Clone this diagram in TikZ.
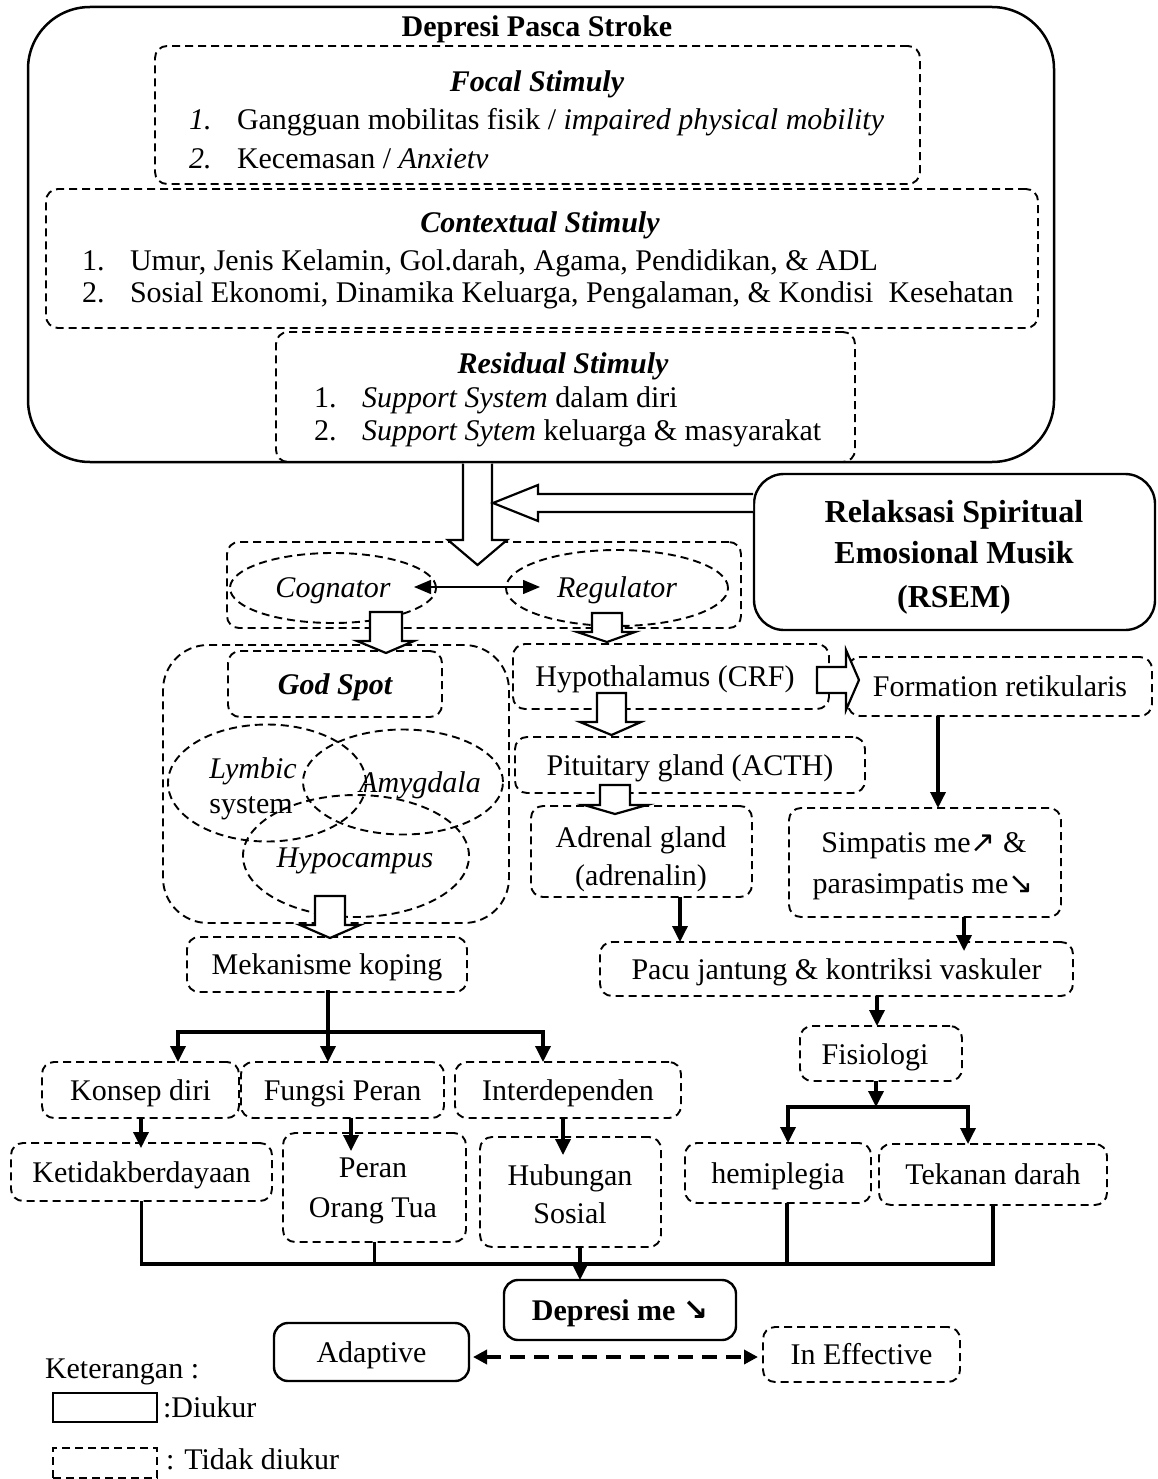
\documentclass[tikz,border=0pt]{standalone}
\usepackage{fontspec}
\setmainfont{Liberation Serif}
\newfontfamily\arrowfont{DejaVu Sans}
\usetikzlibrary{arrows.meta,calc,shapes.geometric}
\begin{document}
\begin{tikzpicture}[x=1pt,y=-1pt,
  every node/.style={inner sep=0pt, outer sep=0pt, font=\fontsize{30}{36}\selectfont},
  txt/.style={text height=20pt, text depth=0pt},
  bf/.style={font=\fontsize{30}{36}\selectfont\bfseries},
  it/.style={font=\fontsize{30}{36}\selectfont\itshape},
  bi/.style={font=\fontsize{30}{36}\selectfont\bfseries\itshape},
  rs/.style={font=\fontsize{32}{38}\selectfont\bfseries, text height=21pt, text depth=0pt},
  dbox/.style={draw, line width=1.9pt, dash pattern=on 8pt off 5pt, rounded corners=12pt},
  sbox/.style={draw, line width=2.4pt, rounded corners=14pt},
  dell/.style={draw, ellipse, line width=1.9pt, dash pattern=on 8pt off 5pt},
  harrow/.style={draw, line width=2.2pt, fill=white, line join=miter},
  conn/.style={line width=3.4pt, -{Triangle[length=16pt,width=15pt]}},
  bar/.style={line width=3.8pt, line cap=rect},
]
\useasboundingbox (0,0) rectangle (1158,1479);
\fill[white] (0,0) rectangle (1158,1479);

% ---------- top block ----------
\node[draw,line width=2.5pt,rounded corners=62pt,minimum width=1026pt,minimum height=455pt] (outer) at (541,234.5) {};
\node[txt,bf] (title) at (537,27) {Depresi Pasca Stroke};

\node[dbox,minimum width=765pt,minimum height=138pt] (focal) at (537.5,115) {};
\node[txt,bi] (focalh) at (537,82) {Focal Stimuly};
\node[txt,it,anchor=west] (f1n) at (189,120) {1.};
\node[txt,anchor=west] (f1) at (237,120) {Gangguan mobilitas fisik / \textit{impaired physical mobility}};
\node[txt,it,anchor=west] (f2n) at (189,159) {2.};
\node[txt,anchor=west] (f2) at (237,159) {Kecemasan / \textit{Anxietv}};

\node[dbox,minimum width=992pt,minimum height=139pt] (context) at (542,258.5) {};
\node[txt,bi] (ctxh) at (540,223) {Contextual Stimuly};
\node[txt,anchor=west] (c1n) at (82,260) {1.};
\node[txt,anchor=west] (c1) at (130,260) {Umur, Jenis Kelamin, Gol.darah, Agama, Pendidikan, \& ADL};
\node[txt,anchor=west] (c2n) at (82,292) {2.};
\node[txt,anchor=west] (c2) at (130,292) {Sosial Ekonomi, Dinamika Keluarga, Pengalaman, \& Kondisi\ \ Kesehatan};

\node[dbox,minimum width=579pt,minimum height=130pt] (resid) at (565.5,397) {};
\node[txt,bi] (resh) at (563,363) {Residual Stimuly};
\node[txt,anchor=west] (r1n) at (314,397) {1.};
\node[txt,anchor=west] (r1) at (362,397) {\textit{Support System} dalam diri};
\node[txt,anchor=west] (r2n) at (314,430) {2.};
\node[txt,anchor=west] (r2) at (362,430) {\textit{Support Sytem} keluarga \& masyarakat};

% ---------- RSEM ----------
\node[sbox,rounded corners=30pt,minimum width=401pt,minimum height=156pt] (rsem) at (954.5,552) {};
\node[rs] (rs1) at (954,512) {Relaksasi Spiritual};
\node[rs] (rs2) at (954,553) {Emosional Musik};
\node[rs] (rs3) at (954,597) {(RSEM)};

% ---------- cognator / regulator ----------
\node[dbox,minimum width=514pt,minimum height=86pt] (cr) at (484,585) {};
\node[dell,minimum width=206pt,minimum height=70pt] (cog) at (333,588) {};
\node[dell,minimum width=222pt,minimum height=76pt] (reg) at (617,588) {};
\node[txt,it] (cogt) at (333,587) {Cognator};
\node[txt,it] (regt) at (617,587) {Regulator};

% ---------- God spot group ----------
\node[dbox,rounded corners=45pt,minimum width=346pt,minimum height=278pt] (godg) at (336,784) {};
\node[dbox,txt,bi,minimum width=214pt,minimum height=66pt] (god) at (335,684) {God Spot};
\node[dell,minimum width=198pt,minimum height=117pt] (lym) at (267,783) {};
\node[dell,minimum width=200pt,minimum height=105pt] (amy) at (403,782) {};
\node[dell,minimum width=226pt,minimum height=122pt] (hyc) at (356,856) {};
\node[txt,it] (lymt) at (253,768) {Lymbic};
\node[txt] (syst) at (251,803) {system};
\node[txt,it] (amyt) at (420,782) {Amygdala};
\node[txt,it] (hyct) at (355,857) {Hypocampus};

% ---------- right column ----------
\node[dbox,minimum width=316pt,minimum height=65pt] (hyp) at (671,676.5) {};
\node[txt] (hypt) at (665,676) {Hypothalamus (CRF)};
\node[dbox,txt,minimum width=304pt,minimum height=59pt] (form) at (1000,686.5) {Formation retikularis};
\node[dbox,txt,minimum width=350pt,minimum height=56pt] (pit) at (690,765) {Pituitary gland (ACTH)};
\node[dbox,minimum width=221pt,minimum height=91pt] (adr) at (641.5,851.5) {};
\node[txt] (adr1) at (641,837) {Adrenal gland};
\node[txt] (adr2) at (641,875) {(adrenalin)};
\node[dbox,minimum width=272pt,minimum height=109pt] (simp) at (925,862.5) {};
\node[txt] (simp1) at (924,842) {Simpatis me{\arrowfont ↗} \&};
\node[txt] (simp2) at (923,883) {parasimpatis me{\arrowfont ↘}};
\node[dbox,txt,minimum width=473pt,minimum height=54pt] (pacu) at (836.5,969) {Pacu jantung \& kontriksi vaskuler};
\node[dbox,minimum width=162pt,minimum height=55pt] (fis) at (881,1053.5) {};
\node[txt] (fist) at (875,1054) {Fisiologi};
\node[dbox,txt,minimum width=186pt,minimum height=60pt] (hemi) at (778,1173) {hemiplegia};
\node[dbox,txt,minimum width=228pt,minimum height=61pt] (tek) at (993,1174.5) {Tekanan darah};

% ---------- left column ----------
\node[dbox,txt,minimum width=280pt,minimum height=55pt] (mek) at (327,964.5) {Mekanisme koping};
\node[dbox,txt,minimum width=197pt,minimum height=56pt] (kon) at (140.5,1090) {Konsep diri};
\node[dbox,txt,minimum width=203pt,minimum height=56pt] (fun) at (342.5,1090) {Fungsi Peran};
\node[dbox,txt,minimum width=226pt,minimum height=56pt] (int) at (568,1090) {Interdependen};
\node[dbox,txt,minimum width=261pt,minimum height=58pt] (ket) at (141.5,1172) {Ketidakberdayaan};
\node[dbox,minimum width=183pt,minimum height=109pt] (per) at (374.5,1187.5) {};
\node[txt] (per1) at (373,1167) {Peran};
\node[txt] (per2) at (373,1207) {Orang Tua};
\node[dbox,minimum width=181pt,minimum height=110pt] (hub) at (570.5,1192) {};
\node[txt] (hub1) at (570,1175) {Hubungan};
\node[txt] (hub2) at (570,1213) {Sosial};

% ---------- bottom ----------
\node[sbox,txt,bf,minimum width=232pt,minimum height=60pt] (dep) at (620,1310) {Depresi me {\arrowfont\bfseries ↘}};
\node[sbox,txt,minimum width=195pt,minimum height=58pt] (adap) at (371.5,1352) {Adaptive};
\node[dbox,txt,minimum width=197pt,minimum height=55pt] (ineff) at (861.5,1354.5) {In Effective};

% ---------- legend ----------
\node[txt,anchor=west] (legt) at (45,1368) {Keterangan :};
\node[draw,line width=2.2pt,minimum width=104pt,minimum height=29pt] (legs) at (105,1407.5) {};
\node[txt,anchor=west] (legst) at (163,1407) {:Diukur};
\node[draw,line width=1.9pt,dash pattern=on 8pt off 5pt,minimum width=104pt,minimum height=30pt] (legd) at (105,1463) {};
\node[txt,anchor=west] (legdt) at (166,1459) {: Tidak diukur};

% ---------- hollow block arrows ----------
\draw[harrow] (463,463.5) -- (463,540) -- (448,540) -- (477.5,565) -- (507,540) -- (492,540) -- (492,463.5);
\draw[harrow] (753,494) -- (538,494) -- (538,485) -- (493,503) -- (538,521) -- (538,512) -- (753,512);
\draw[harrow] (370,612) -- (370,641) -- (357,641) -- (386,653) -- (414,641) -- (402,641) -- (402,612) -- cycle;
\draw[harrow] (592,613) -- (592,632) -- (577,632) -- (607,642) -- (635,632) -- (622,632) -- (622,613) -- cycle;
\draw[harrow] (597,693) -- (597,722) -- (580,722) -- (611.5,735) -- (641,722) -- (626,722) -- (626,693) -- cycle;
\draw[harrow] (600,785) -- (600,805) -- (584,805) -- (615,814) -- (647,805) -- (630,805) -- (630,785) -- cycle;
\draw[harrow] (315,896) -- (315,925) -- (300,925) -- (330,938) -- (360,925) -- (345,925) -- (345,896) -- cycle;
\draw[harrow] (817,667) -- (846,667) -- (846,650) -- (859,680) -- (846,710) -- (846,693) -- (817,693) -- cycle;

% ---------- connectors ----------
\draw[line width=1.4pt, {Triangle[length=17pt,width=14pt]}-{Triangle[length=17pt,width=14pt]}] ($(cog.east)+(-22,-1)$) -- ($(reg.west)+(34,-1)$);

\coordinate (fr) at (938,0);
\draw[conn] (form.south -| fr) -- (simp.north -| fr);
\coordinate (ap) at (680,0);
\draw[conn] (adr.south -| ap) -- (pacu.north -| ap);
\coordinate (sp) at (964,0);
\draw[conn] (simp.south -| sp) -- ($(pacu.north -| sp)+(0,9)$);
\coordinate (pf) at (877,0);
\draw[conn] (pacu.south -| pf) -- (fis.north -| pf);

\coordinate (fb) at (876,1107);
\coordinate (fbL) at (788,1107);
\coordinate (fbR) at (968,1107);
\draw[conn] (fis.south -| fb) -- (fb);
\draw[bar] (fbL) -- (fbR);
\draw[conn] (fbL) -- (fbL |- hemi.north);
\draw[conn] (fbR) -- (fbR |- tek.north);

\coordinate (mb) at (328,1032);
\coordinate (mbL) at (178,1032);
\coordinate (mbR) at (543,1032);
\draw[bar] (mek.south -| mb) -- (mb);
\draw[bar] (mbL) -- (mbR);
\draw[conn] (mbL) -- (mbL |- kon.north);
\draw[conn] (mb) -- (mb |- fun.north);
\draw[conn] (mbR) -- (mbR |- int.north);

\coordinate (kk) at (141,0);
\draw[conn] (kon.south -| kk) -- ($(ket.north -| kk)+(0,5)$);
\coordinate (fp) at (351,0);
\draw[conn] (fun.south -| fp) -- ($(per.north -| fp)+(0,18)$);
\coordinate (ih) at (563,0);
\draw[conn] (int.south -| ih) -- ($(hub.north -| ih)+(0,18)$);

\coordinate (cb) at (0,1264);
\draw[bar, line cap=butt, line join=miter] (ket.south) -- (ket.south |- cb) -- (tek.south |- cb) -- (tek.south);
\draw[bar, line cap=butt] (per.south) -- (per.south |- cb);
\coordinate (hemb) at (787,1203);
\draw[bar, line cap=butt] (hemi.south -| hemb) -- (hemb |- cb);
\coordinate (hubb) at (580,0);
\draw[conn] (hub.south -| hubb) -- (dep.north -| hubb);

\draw[line width=3.5pt, dash pattern=on 15pt off 9pt, {Triangle[length=14pt,width=14pt]}-{Triangle[length=14pt,width=14pt]}] ($(adap.east)+(4,5)$) -- ($(ineff.west)+(-5,2.5)$);
\end{tikzpicture}
\end{document}
